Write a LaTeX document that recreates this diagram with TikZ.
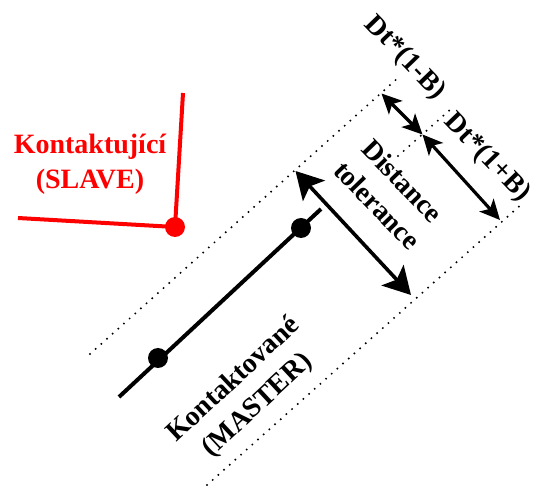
\documentclass[tikz,border=0pt]{standalone}
\usepackage{fontspec}
\setmainfont{Liberation Serif}
\usetikzlibrary{arrows.meta}
\tikzset{
    wire/.style={line width=4pt}, % solid bars of both parts
    bound/.style={line width=2.2pt, line cap=round, dash pattern=on 0pt off 7.6pt}, % dotted limits
    joint/.style={circle, fill, inner sep=0pt, minimum size=20pt}, % round joints
    bigarrow/.style={line width=3.6pt, {Stealth[length=27pt,width=30pt,inset=6pt]}-{Stealth[length=27pt,width=30pt,inset=6pt]}},
    smallarrow/.style={line width=3.2pt, {Stealth[length=20pt,width=19pt,inset=5pt]}-{Stealth[length=20pt,width=19pt,inset=5pt]}},
    txt/.style={font=\bfseries\fontsize{28}{35}\selectfont, align=center, inner sep=0pt},
}
\begin{document}
\begin{tikzpicture}[x=1pt, y=-1pt]
    \useasboundingbox (0,0) rectangle (536,486);
    % dotted limits
    \coordinate (b1s) at (90,354);
    \coordinate (b1e) at (399,77);
    \coordinate (b2s) at (398,156);
    \coordinate (b2e) at (452,108);
    \coordinate (b3s) at (207,485);
    \coordinate (b3e) at (524,202);
    \draw[bound] (b1s) -- (b1e);
    \draw[bound] (b2s) -- (b2e);
    \draw[bound] (b3s) -- (b3e);
    % master
    \coordinate (m1) at (119,397);
    \coordinate (m2) at (321,209);
    \draw[wire] (m1) -- (m2);
    \node[joint] (ma) at (158,358) {};
    \node[joint] (mb) at (301,228) {};
    % slave
    \coordinate (s1) at (183,93);
    \coordinate (s2) at (18,218);
    \node[joint, red] (sj) at (175,227) {};
    \draw[wire, red] (s1) -- (sj.center) -- (s2);
    % tolerance arrows
    \coordinate (t1) at (295.5,171);
    \coordinate (t2) at (411,295);
    \coordinate (d1) at (381.5,93.5);
    \coordinate (d2) at (422.5,134.5);
    \coordinate (d3) at (500,220);
    \draw[bigarrow] (t1) -- (t2);
    \draw[smallarrow] (d1) -- (d2);
    \draw[smallarrow] (d2) -- (d3);
    % labels
    \node[txt, rotate=-46] (dm) at (405,58) {Dt*(1-B)};
    \node[txt, rotate=-46] (dp) at (487,158) {Dt*(1+B)};
    \node[txt, rotate=-46] (tol) at (390,193) {Distance\\tolerance};
    \node[txt, rotate=43] (mst) at (246,393) {Kontaktované\\(MASTER)};
    \node[txt, red] (slv) at (90,164) {Kontaktující\\(SLAVE)};
\end{tikzpicture}
\end{document}
